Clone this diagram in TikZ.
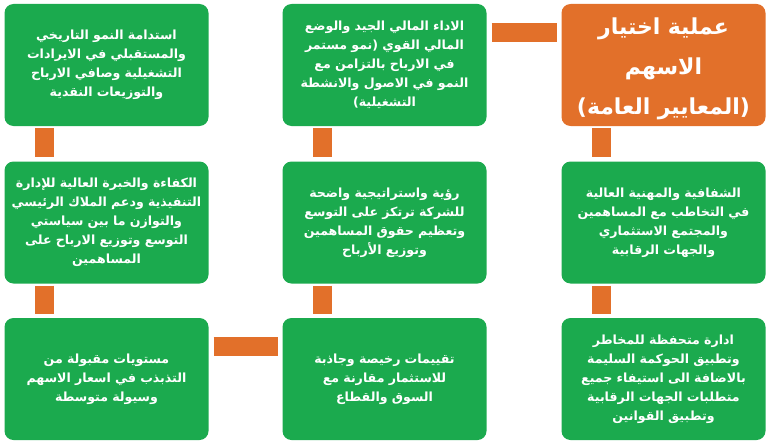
\documentclass[tikz,border=0pt]{standalone}
\usepackage{fontspec}
\TeXXeTstate=1
\newfontfamily\arabicfont[Script=Arabic]{DejaVu Sans}
\usetikzlibrary{calc}
\definecolor{boxgreen}{RGB}{27,170,78}
\definecolor{boxorange}{RGB}{226,112,42}
\newcommand\rl[1]{\beginR #1\endR}
\begin{document}
\begin{tikzpicture}[x=1pt,y=-1pt,
  card/.style={fill=boxgreen, rounded corners=9pt, minimum width=204pt,
    minimum height=122pt, text=white, align=center, inner sep=0pt,
    text width=200pt, font=\arabicfont\bfseries\fontsize{12.6}{19}\selectfont},
  headcard/.style={card, fill=boxorange},
  headtext/.style={text=white, align=center, inner sep=0pt, text width=200pt,
    font=\arabicfont\bfseries\fontsize{22}{40}\selectfont},
  bar/.style={draw=boxorange, line width=19pt}]
\useasboundingbox (0,0) rectangle (770,444);

\node[headcard] (tr) at (663.5,65) {};
\node[headtext] (trt) at (663.5,69) {\rl{عملية اختيار}\\\rl{الاسهم}\\\rl{(المعايير العامة)}};
\node[card] (tm) at (384.5,65) {\rl{الاداء المالي الجيد والوضع}\\\rl{المالي القوي (نمو مستمر}\\\rl{في الارباح بالتزامن مع}\\\rl{النمو في الاصول والانشطة}\\\rl{التشغيلية)}};
\node[card] (tl) at (106.5,65) {\rl{استدامة النمو التاريخي}\\\rl{والمستقبلي في الايرادات}\\\rl{التشغيلية وصافي الارباح}\\\rl{والتوزيعات النقدية}};

\node[card] (mr) at (663.5,222.5) {\rl{الشفافية والمهنية العالية}\\\rl{في التخاطب مع المساهمين}\\\rl{والمجتمع الاستثماري}\\\rl{والجهات الرقابية}};
\node[card] (mm) at (384.5,222.5) {\rl{رؤية واستراتيجية واضحة}\\\rl{للشركة ترتكز على التوسع}\\\rl{وتعظيم حقوق المساهمين}\\\rl{وتوزيع الأرباح}};
\node[card] (ml) at (106.5,222.5) {\rl{الكفاءة والخبرة العالية للإدارة}\\\rl{التنفيذية ودعم الملاك الرئيسي}\\\rl{والتوازن ما بين سياستي}\\\rl{التوسع وتوزيع الارباح على}\\\rl{المساهمين}};

\node[card] (br) at (663.5,379) {\rl{ادارة متحفظة للمخاطر}\\\rl{وتطبيق الحوكمة السليمة}\\\rl{بالاضافة الى استيفاء جميع}\\\rl{متطلبات الجهات الرقابية}\\\rl{وتطبيق القوانين}};
\node[card] (bm) at (384.5,379) {\rl{تقييمات رخيصة وجاذبة}\\\rl{للاستثمار مقارنة مع}\\\rl{السوق والقطاع}};
\node[card] (bl) at (106.5,379) {\rl{مستويات مقبولة من}\\\rl{التذبذب في اسعار الاسهم}\\\rl{وسيولة متوسطة}};

% horizontal bars
\draw[bar, shorten <=5pt, shorten >=4pt] ($(tm.north east)+(0,29)$) -- ($(tr.north west)+(0,29)$);
\draw[bar, shorten <=5pt, shorten >=4pt] ($(bl.north east)+(0,28.5)$) -- ($(bm.north west)+(0,28.5)$);
% vertical bars
\foreach \a/\b in {tl/ml, ml/bl, tm/mm, mm/bm, tr/mr, mr/br}{
  \draw[bar, shorten <=2pt, shorten >=4pt] ($(\a.south west)+(40.5,0)$) -- ($(\b.north west)+(40.5,0)$);
}
\end{tikzpicture}
\end{document}
